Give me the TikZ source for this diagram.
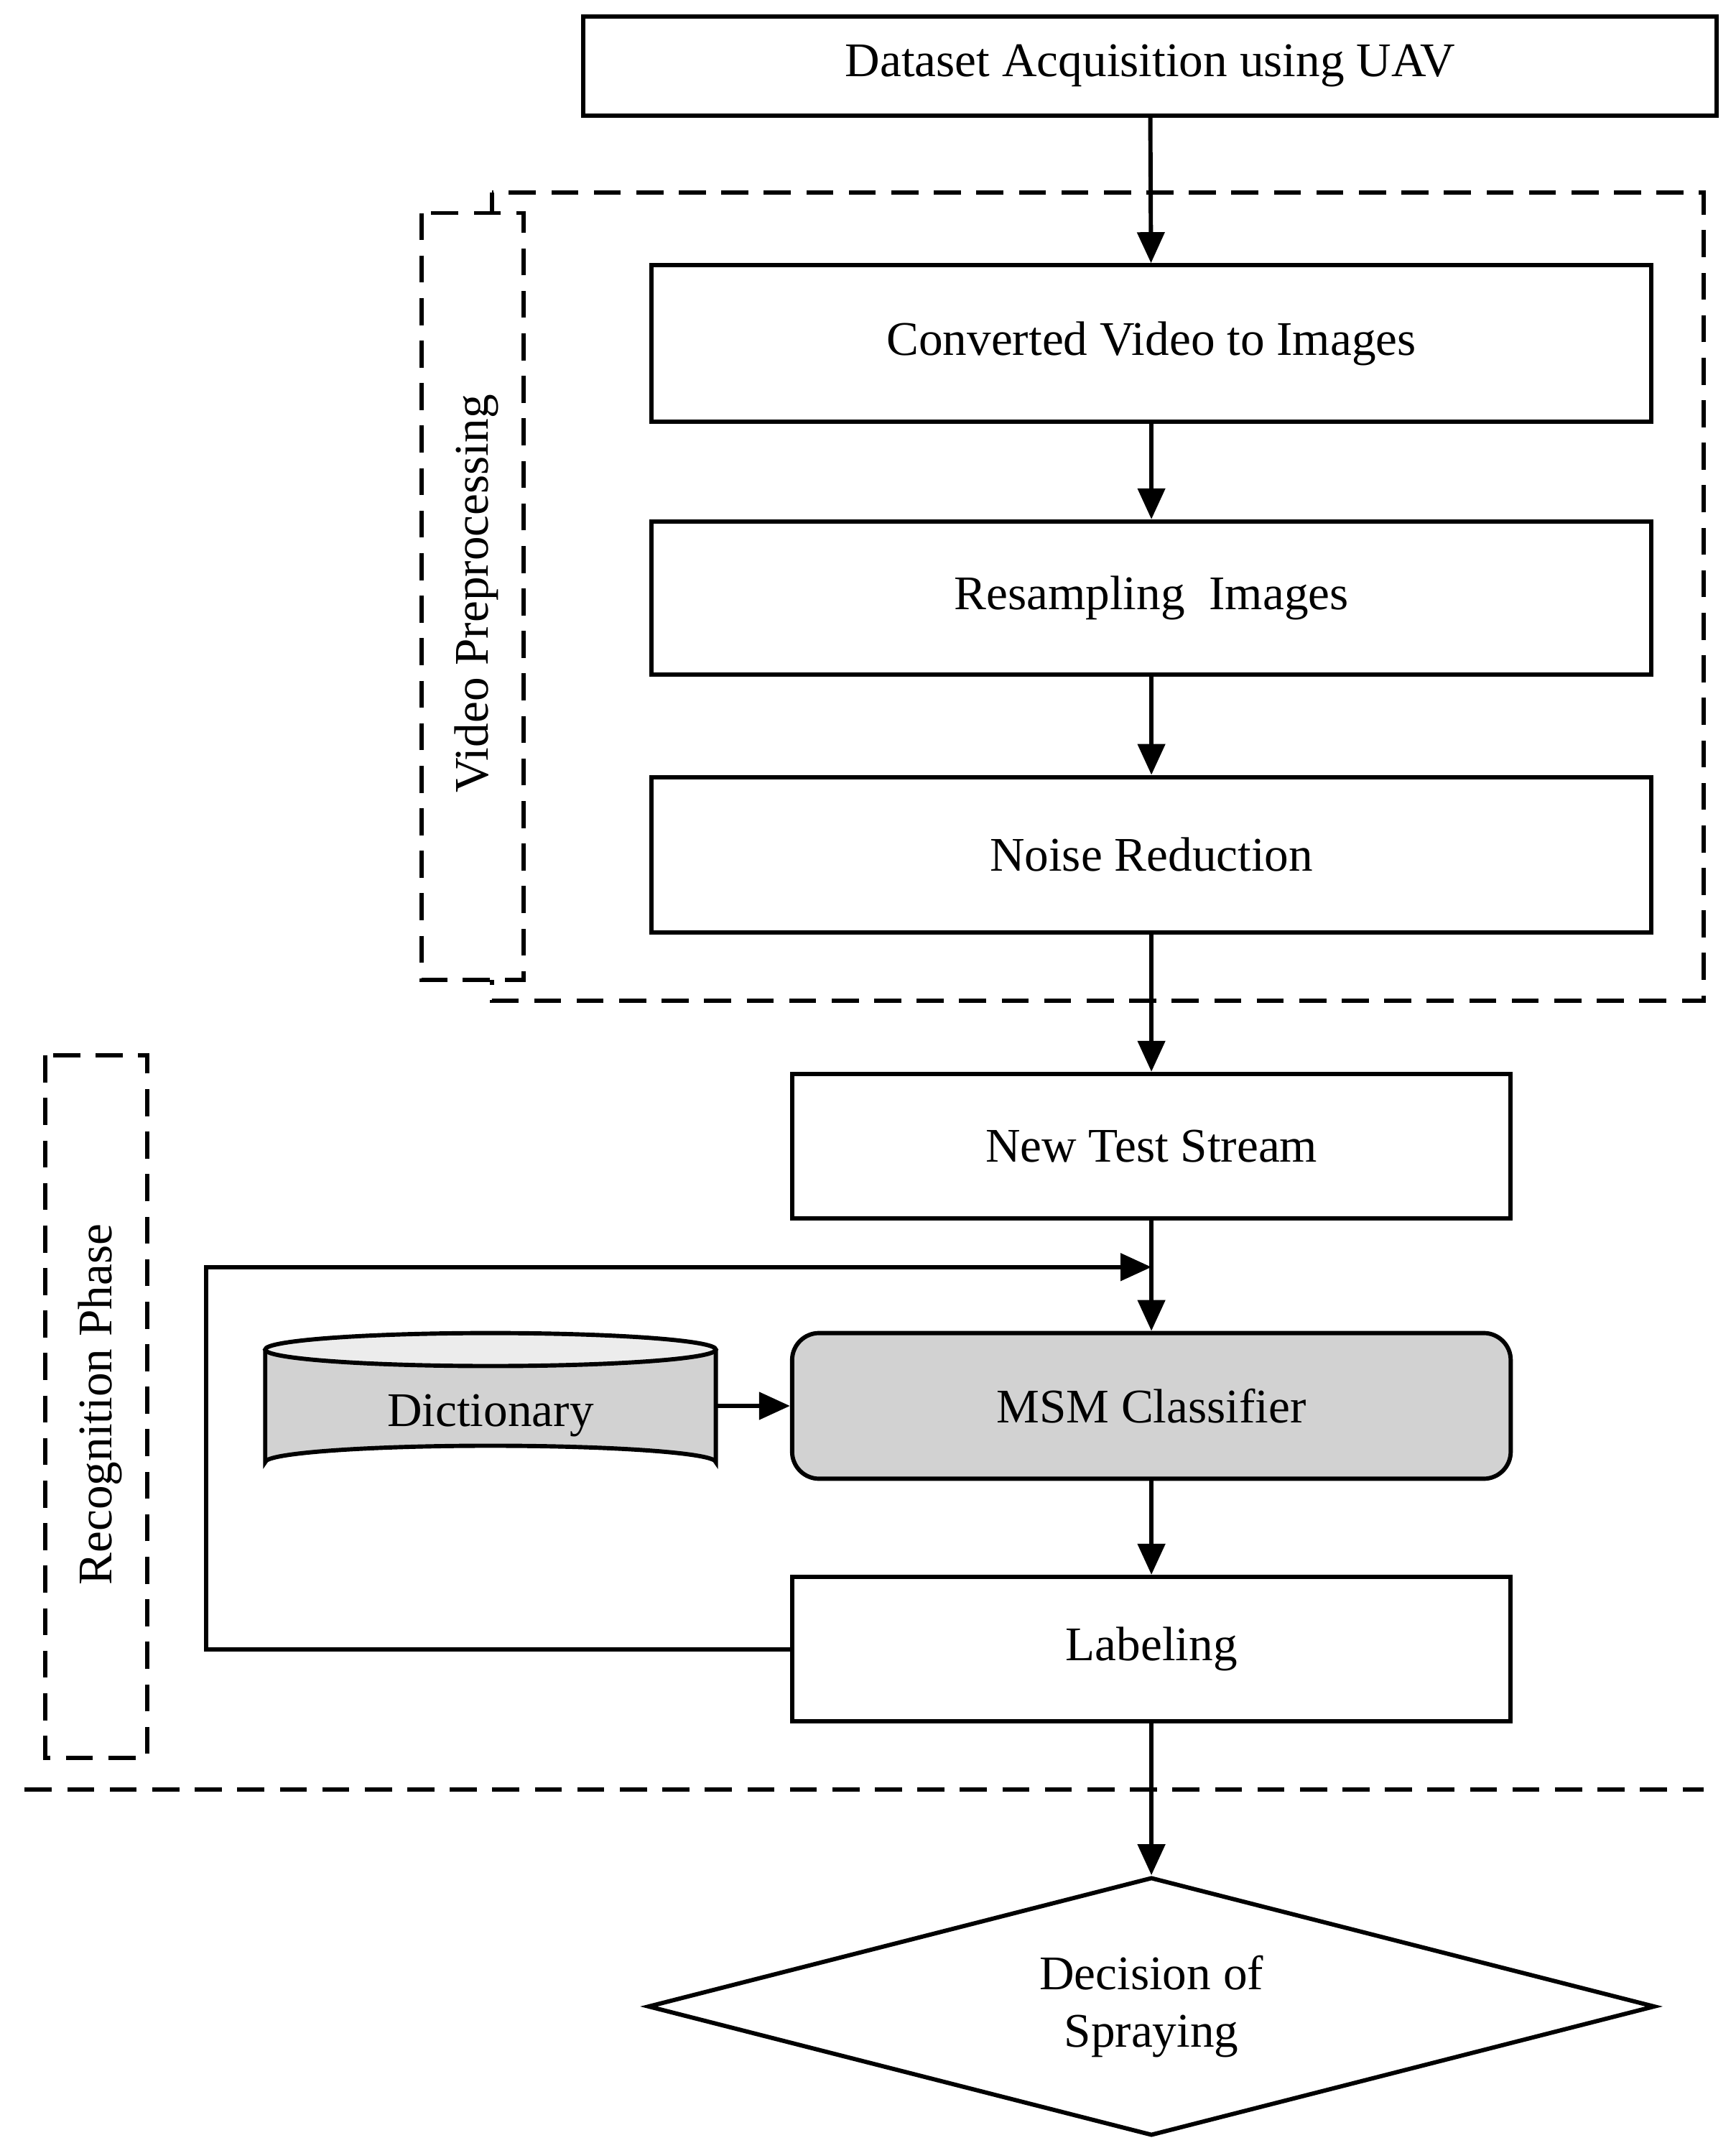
\documentclass[tikz,border=0pt]{standalone}
\usepackage{fontspec}
\setmainfont{Liberation Serif}
\usetikzlibrary{shapes.geometric,arrows.meta}
\begin{document}
\begin{tikzpicture}[x=0.025cm,y=-0.025cm,
  box/.style={draw,line width=2.2pt,minimum height=#1,inner sep=0pt,font=\fontsize{25}{30}\selectfont},
  dsh/.style={draw,line width=2.2pt,dash pattern=on 14pt off 8pt},
  arr/.style={line width=2.2pt,-{Triangle[length=16pt,width=14pt]}},
  lbl/.style={font=\fontsize{25}{30}\selectfont,rotate=90}]
\useasboundingbox (0,0) rectangle (1263,1563);
% dashed groups
\draw[dsh] (358,140) rectangle (1240,728);
\draw[dsh,fill=white] (307,155) rectangle (381,713);
\node[lbl] (vp) at (347,432) {Video Preprocessing};
\draw[dsh] (33,768) rectangle (107,1279);
\node[lbl] (rp) at (73,1022) {Recognition Phase};
\draw[dsh] (18,1302) -- (1240,1302);
% boxes
\node[box=72\pgflinewidth,minimum width=825*0.025cm,minimum height=1.8cm] (a) at (837,48) {Dataset Acquisition using UAV};
\node[box=1,minimum width=728*0.025cm,minimum height=2.85cm] (b) at (838,250) {Converted Video to Images};
\node[box=1,minimum width=728*0.025cm,minimum height=2.78cm] (c) at (838,435) {Resampling\ \ Images};
\node[box=1,minimum width=728*0.025cm,minimum height=2.83cm] (d) at (838,622) {Noise Reduction};
\node[box=1,minimum width=523*0.025cm,minimum height=2.63cm] (e) at (838,834) {New Test Stream};
\node[box=1,minimum width=523*0.025cm,minimum height=2.65cm,rounded corners=14pt,fill=gray!35] (f) at (838,1023) {MSM Classifier};
\node[box=1,minimum width=523*0.025cm,minimum height=2.63cm] (g) at (838,1200) {Labeling};
\node[diamond,draw,line width=2.2pt,minimum width=733*0.025cm,minimum height=188*0.025cm,aspect=3.9,inner sep=0pt,font=\fontsize{25}{30}\selectfont,align=center] (h) at (838,1460) {Decision of\\Spraying};
% cylinder
\draw[line width=2.2pt,fill=gray!35] (193,982) -- (193,1064) arc[start angle=180,end angle=360,x radius=164,y radius=12] -- (521,982);
\draw[line width=2.2pt,fill=gray!15] (357,982) ellipse[x radius=164,y radius=12];
\node[font=\fontsize{25}{30}\selectfont,minimum width=328*0.025cm,minimum height=2.65cm] (dict) at (357,1030) {Dictionary};
% arrows
\draw[arr] (a) -- (b);
\draw[arr] (b) -- (c);
\draw[arr] (c) -- (d);
\draw[arr] (d) -- (e);
\draw[arr] (e) -- (f);
\draw[arr] (f) -- (g);
\draw[arr] (g) -- (h.north);
\draw[arr] (dict.east |- f) -- (f);
\coordinate (lp) at (838,922);
\draw[arr] (g.west) -- (150,1200) -- (150,922) -- (lp);
\end{tikzpicture}
\end{document}
